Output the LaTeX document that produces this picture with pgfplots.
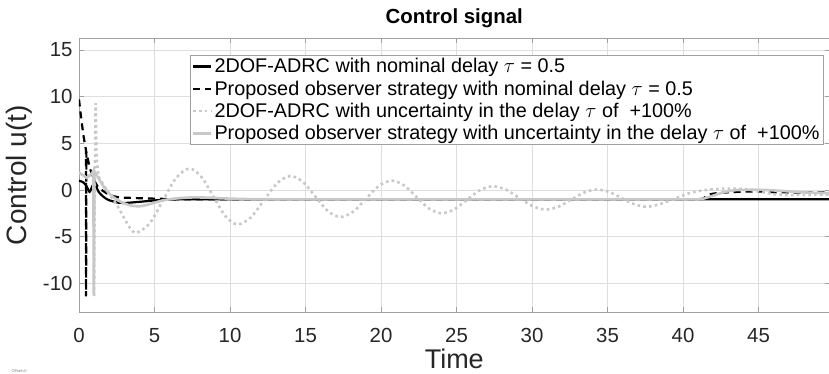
\documentclass[border=0pt]{standalone}
\usepackage{pgfplots}
\pgfplotsset{compat=1.18}
\usetikzlibrary{calc}
\usepackage{fontspec}
\setmainfont{Liberation Sans}

\definecolor{lgray}{RGB}{200,200,200}
\definecolor{gridc}{RGB}{222,222,222}
\definecolor{axc}{RGB}{160,160,160}
\definecolor{txt}{RGB}{38,38,38}

\begin{document}
\begin{tikzpicture}
\begin{axis}[
  name=ax, scale only axis,
  width=750.5pt, height=273.7pt,
  xmin=0, xmax=49.7, ymin=-13.08, ymax=16.26,
  xtick={0,5,...,45}, ytick={-10,-5,0,5,10,15},
  yticklabels={-10,-5,0,5,10,15},
  xticklabels={0,5,10,15,20,25,30,35,40,45},
  tick align=inside, major tick length=5pt,
  tick style={axc, line width=0.7pt},
  axis line style={axc, line width=0.8pt},
  grid=major, grid style={gridc, line width=0.7pt},
  ticklabel style={font=\fontsize{20.4}{24}\selectfont, text=txt},
  xticklabel style={inner sep=0pt, yshift=-16.5pt},
  yticklabel style={xshift=-3pt},
  title={\textbf{Control signal}},
  title style={at={(axis description cs:0.5,1.05)}, anchor=center,
    font=\fontsize{20.4}{24}\selectfont, text=black},
  xlabel={Time},
  xlabel style={at={(axis description cs:0.5,-0.172)}, anchor=center,
    inner sep=0pt, font=\fontsize{27}{30}\selectfont, text=txt},
  ylabel={Control u(t)},
  ylabel style={at={(axis description cs:-0.079,0.5)}, anchor=center,
    font=\fontsize{28}{32}\selectfont, text=txt},
  legend style={at={(axis description cs:0.148,0.94)}, anchor=north west,
    draw=axc, line width=0.7pt, fill=white,
    font=\fontsize{19.8}{23.5}\selectfont, text=black,
    row sep=2.4pt, inner sep=1.5pt, cells={anchor=west}},
  legend image code/.code={\draw[#1] (0pt,0pt) -- (18pt,0pt);},
]

% 2DOF-ADRC, nominal delay
\addplot[black, line width=2.2pt, smooth] coordinates {
  (0,1.0) (0.3,0.8) (0.5,0.4) (0.7,-0.2) (0.85,0.3) (1.0,0.7) (1.1,0.5)
  (1.3,-0.2) (1.6,-0.7) (1.95,-1.07) (2.6,-1.36) (3.0,-1.4) (4.15,-1.25)
  (5.0,-1.12) (6.0,-1.03) (7.0,-1.0) (10,-1.0) (20,-1.0) (30,-1.0)
  (40,-1.0) (49.7,-1.0)
};
\addlegendentry{2DOF-ADRC with nominal delay $\tau$ = 0.5}

% Proposed observer, nominal delay
\addplot[black, line width=2.2pt, dash pattern=on 7pt off 5pt] coordinates {
  (0,9.7) (0.1,8.3) (0.2,7.0) (0.3,5.8) (0.4,4.8) (0.46,4.3) (0.47,-11.4)
  (0.49,4.1) (0.6,3.2) (0.73,2.3) (0.95,1.2) (1.2,0.45) (1.5,0.0)
};
\addlegendentry{Proposed observer strategy with nominal delay $\tau$ = 0.5}
\addplot[black, line width=2.2pt, dash pattern=on 7pt off 5pt, smooth, forget plot] coordinates {
  (1.5,0.0) (2.0,-0.5) (2.6,-0.78) (3.5,-0.85) (4.15,-0.89) (5.5,-0.95)
  (7,-1.0) (10,-1.0) (20,-1.0) (30,-1.0) (40,-1.0) (41.0,-1.0) (41.3,-0.95)
  (41.8,-0.45) (43,-0.25) (44.1,-0.18) (45.2,-0.17) (46.3,-0.25)
  (48.6,-0.27) (49.7,-0.27)
};

% 2DOF-ADRC, delay +100%
\addplot[lgray, line width=2.6pt, dash pattern=on 2.6pt off 3.2pt] coordinates {
  (0,1.85) (0.25,1.6) (0.5,1.3) (0.75,1.6) (0.97,1.95) (1.0,-11.5)
  (1.05,1.5) (1.1,9.3) (1.16,3.5) (1.3,1.43)
};
\addlegendentry{2DOF-ADRC with uncertainty in the delay $\tau$ of \ +100\%}
\addplot[lgray, line width=2.6pt, dash pattern=on 2.6pt off 3.2pt, smooth, forget plot] coordinates {
  (1.3,1.43) (1.83,0.0) (2.58,-1.8) (3.05,-3.2) (3.4,-4.1) (3.8,-4.6)
  (4.68,-3.59) (5.55,-1.15) (6.43,1.29) (7.3,2.3)
  (8.1,1.42) (8.9,-0.7) (9.7,-2.82) (10.5,-3.7)
  (11.38,-2.94) (12.25,-1.1) (13.13,0.74) (14.0,1.5)
  (14.83,0.86) (15.65,-0.7) (16.48,-2.26) (17.3,-2.9)
  (18.15,-2.33) (19.0,-0.95) (19.85,0.43) (20.7,1.0)
  (21.53,0.49) (22.35,-0.75) (23.18,-1.99) (24.0,-2.5)
  (24.85,-2.08) (25.7,-1.05) (26.55,-0.02) (27.4,0.4)
  (28.28,0.03) (29.15,-0.85) (30.03,-1.73) (30.9,-2.1)
  (31.75,-1.79) (32.6,-1.03) (33.45,-0.27) (34.3,0.05)
  (35.13,-0.23) (35.95,-0.88) (36.78,-1.53) (37.6,-1.8)
  (38.5,-1.5) (39.5,-0.9) (40.5,-0.3) (41.5,0.0) (42.5,0.12) (43.5,0.15)
  (44.5,0.0) (45.5,-0.3) (46.3,-0.5) (47.5,-0.55) (49.7,-0.5)
};

% Proposed observer, delay +100%
\addplot[lgray, line width=2.6pt] coordinates {
  (0,1.85) (0.25,1.6) (0.5,1.3) (0.75,1.6) (0.95,2.0) (0.98,-11.2)
  (1.02,2.0) (1.2,1.5)
};
\addlegendentry{Proposed observer strategy with uncertainty in the delay $\tau$ of \ +100\%}
\addplot[lgray, line width=2.6pt, smooth, forget plot] coordinates {
  (1.2,1.5) (1.5,0.7) (1.85,-0.1) (2.3,-0.8) (2.8,-1.3) (3.4,-1.65)
  (4.0,-1.75) (4.6,-1.55) (5.6,-1.1) (6.5,-0.9) (7.5,-0.8) (8.5,-0.82)
  (9.5,-0.9) (11,-0.97) (13,-1.0) (20,-1.0) (30,-1.0) (40,-1.0)
  (41.0,-1.0) (41.3,-0.95) (42.0,-0.6) (42.8,-0.2) (43.5,-0.02)
  (44.5,0.02) (45.5,0.0) (46.5,-0.1) (47.5,-0.2) (48.6,-0.3) (49.7,-0.35)
};
\end{axis}
\node[anchor=west, font=\fontsize{4}{4}\selectfont, text=gray]
  at ($(ax.south west)+(-71pt,-59pt)$) {Offset=0};
\pgfresetboundingbox
\useasboundingbox ($(ax.south west)+(-79pt,-62pt)$) rectangle ($(ax.south west)+(750pt,312pt)$);
\end{tikzpicture}
\end{document}
